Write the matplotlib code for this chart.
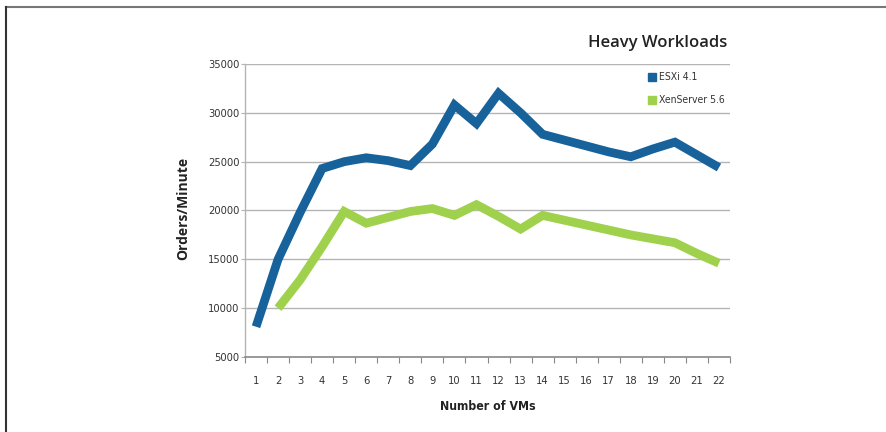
import matplotlib
matplotlib.use("Agg")
import matplotlib.pyplot as plt
from matplotlib.lines import Line2D
from matplotlib.patches import Rectangle
from matplotlib import font_manager

vms = list(range(1, 23))
esxi_vms = list(range(1, 23))
esxi = [8100, 15000, 19800, 24300, 25000, 25400, 25100, 24600, 26800, 30800,
        28900, 32000, 30000, 27800, 27200, 26600, 26000, 25500, 26300, 27000,
        25700, 24400]
xen_vms = list(range(2, 23))
xen = [10000, 12900, 16300, 19900, 18700, 19300, 19900, 20200, 19500, 20600,
       19400, 18100, 19500, 19000, 18500, 18000, 17500, 17100, 16700, 15600,
       14600]
yticks = [5000, 10000, 15000, 20000, 25000, 30000, 35000]
series_names = ["ESXi 4.1", "XenServer 5.6"]
title = "Heavy Workloads"
xlabel = "Number of VMs"
ylabel = "Orders/Minute"

blue = "#17629a"
green = "#9fd14c"
grid = "#b4b4b4"
txt = "#333333"

names = {f.name for f in font_manager.fontManager.ttflist}
if "Liberation Sans Narrow" in names:
    narrow = dict(family="Liberation Sans Narrow")
else:
    narrow = dict(family="DejaVu Sans", stretch="condensed")
bold_font = dict(family=["Open Sans", "DejaVu Sans"])

fig = plt.figure(figsize=(8.86, 4.32), dpi=100)
fig.patch.set_facecolor("white")

fig.add_artist(Line2D([6/886, 1], [1-7/432, 1-7/432], color="#777777", lw=1.5,
                      transform=fig.transFigure))
fig.add_artist(Line2D([6/886, 6/886], [0, 1-7/432], color="#333333", lw=1.5,
                      transform=fig.transFigure))

ax = fig.add_axes([245/886, 1-357/432, (730-245)/886, (357-64)/432])
ax.set_xlim(0.5, 22.5)
ax.set_ylim(5000, 35000)

for y in yticks[1:]:
    ax.axhline(y, color=grid, lw=1.0, zorder=1)

ax.plot(esxi_vms, esxi, color=blue, lw=6.3, solid_joinstyle="miter",
        solid_capstyle="butt", zorder=3)
ax.plot(xen_vms, xen, color=green, lw=6.3, solid_joinstyle="miter",
        solid_capstyle="butt", zorder=3)

for s in ["top", "right"]:
    ax.spines[s].set_visible(False)
ax.spines["left"].set_color(grid)
ax.spines["bottom"].set_color("#888888")
ax.spines["left"].set_linewidth(1.0)
ax.spines["bottom"].set_linewidth(1.2)

ax.set_yticks(yticks)
ax.set_yticklabels([str(v) for v in yticks], fontsize=8, color=txt, **narrow)
ax.tick_params(axis="y", length=3, width=0.8, color=grid, pad=1)

ax.set_xticks([v + 0.5 for v in [0] + vms])
ax.set_xticklabels([])
ax.set_xticks(vms, minor=True)
ax.set_xticklabels([str(v) for v in vms], minor=True, fontsize=8, color=txt,
                   **narrow)
ax.tick_params(axis="x", which="major", length=4, width=0.8, color="#888888")
ax.tick_params(axis="x", which="minor", length=0, pad=14)

fig.text(488/886, 1-407/432, xlabel, ha="center", va="center",
         fontsize=8.8, fontweight="bold", color="#222222", **narrow)
fig.text(183/886, 1-208/432, ylabel, ha="center", va="center", rotation=90,
         fontsize=10, fontweight="bold", color="#222222", **bold_font)
fig.text(727/886, 1-43/432, title, ha="right", va="center",
         fontsize=12, fontweight="semibold", color="#222222", **bold_font)

for i, (name, col) in enumerate(zip(series_names, [blue, green])):
    yc = 1 - (77 + i * 23) / 432
    fig.add_artist(Rectangle((648/886, yc - 4/432), 8/886, 8/432,
                             color=col, transform=fig.transFigure))
    fig.text(659/886, yc, name, ha="left", va="center", fontsize=7.5,
             color=txt, **narrow)

fig.savefig("out.png", dpi=100, facecolor="white")
